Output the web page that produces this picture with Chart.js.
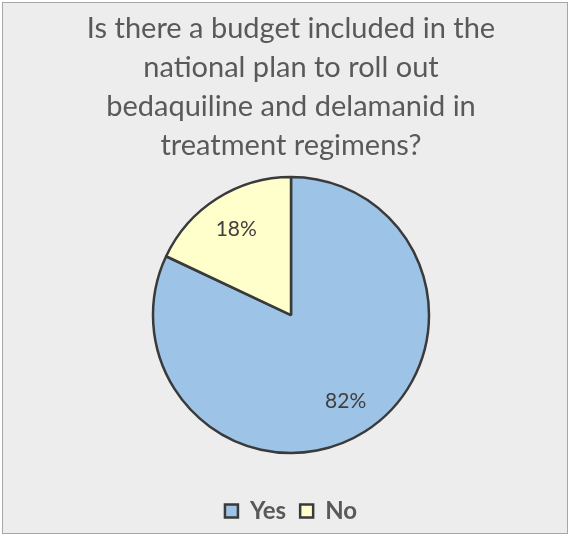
<!DOCTYPE html>
<html>
<head>
<meta charset="utf-8">
<script src="https://cdn.jsdelivr.net/npm/chart.js@4/dist/chart.umd.min.js"></script>
<style>
  html, body { margin: 0; padding: 0; background: #ffffff; }
  #frame {
    position: absolute; left: 2px; top: 2px; width: 566px; height: 532px;
    background: #ededed; border: 1px solid #a6a6a6; box-sizing: border-box;
  }
  #chart { position: absolute; left: 0; top: 0; }
</style>
</head>
<body>
<div id="frame"><canvas id="chart" width="566" height="532"></canvas></div>
<script>
// ===== DATOS =====
const titleLines = ['Is there a budget included in the', 'national plan to roll out', 'bedaquiline and delamanid in', 'treatment regimens?'];
const categories = ['Yes', 'No'];
const shares = [82, 18];
const sliceColors = ['#9dc3e6', '#ffffcc'];

// etiquetas de porcentaje dentro de cada sector
const sliceLabels = {
  id: 'sliceLabels',
  afterDatasetsDraw: function(chart) {
    const ctx = chart.ctx;
    const meta = chart.getDatasetMeta(0);
    ctx.save();
    ctx.font = '21px Lato';
    ctx.fillStyle = '#404040';
    ctx.textAlign = 'center';
    ctx.textBaseline = 'middle';
    meta.data.forEach(function(arc, i) {
      const mid = (arc.startAngle + arc.endAngle) / 2;
      const r = arc.outerRadius * 0.74;
      ctx.fillText(shares[i] + '%', arc.x + Math.cos(mid) * r, arc.y + Math.sin(mid) * r);
    });
    ctx.restore();
  }
};

new Chart(document.getElementById('chart'), {
  type: 'pie',
  data: {
    labels: categories,
    datasets: [{
      data: shares,
      backgroundColor: sliceColors,
      borderColor: '#3a3a3a',
      borderWidth: 2.5,
    }],
  },
  options: {
    responsive: false,
    animation: false,
    radius: 138,
    layout: { padding: { left: 10, right: 0, top: 6, bottom: 2 } },
    plugins: {
      tooltip: { enabled: false },
      title: {
        display: true,
        text: titleLines,
        color: '#595959',
        font: { family: 'Lato', size: 29, weight: 'normal', lineHeight: 1.345 },
        padding: { top: 0, bottom: -20 },
      },
      legend: {
        position: 'bottom',
        labels: {
          color: '#595959',
          font: { family: 'Lato', size: 24, weight: 'bold' },
          boxWidth: 13,
          boxHeight: 13,
          padding: 14,
        },
      },
    },
  },
  plugins: [sliceLabels],
});
</script>
</body>
</html>
